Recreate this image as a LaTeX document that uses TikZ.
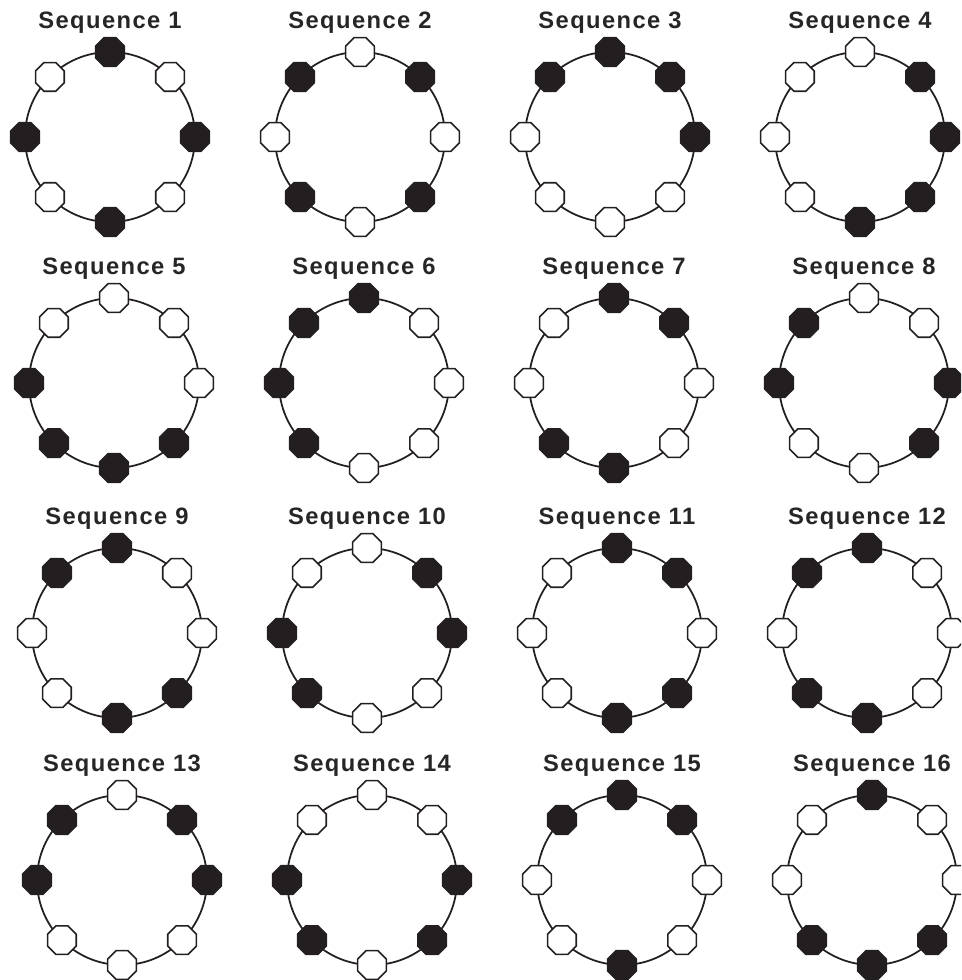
\documentclass[tikz,border=0pt]{standalone}
\usepackage{fontspec}
\setmainfont{Liberation Sans}
\newfontfamily\headfont[LetterSpace=6]{Liberation Sans}
\usepackage{xcolor}
\usepackage{tikz}
\usetikzlibrary{positioning, shapes.geometric, calc}
\definecolor{inkblack}{RGB}{35,31,32}
\definecolor{textgray}{RGB}{38,38,38}

\begin{document}
\begin{tikzpicture}[
  x=0.02cm, y=-0.02cm,
  node distance=0.06cm,
  ring/.style={draw=inkblack, line width=1pt},
  disc/.style={regular polygon, regular polygon sides=8, draw=inkblack,
               line width=0.9pt, minimum size=0.62cm, inner sep=0pt},
  bk/.style={disc, fill=inkblack},
  wh/.style={disc, fill=white},
  title/.style={font=\headfont\bfseries\fontsize{13.5}{15}\selectfont,
                text=textgray, inner sep=0pt},
]
  \clip (0,0) rectangle (961,980);

  % one ring per sequence: dots listed top, then clockwise
  \foreach \n/\cx/\cy/\pat in {
    1/110/137/{bk,wh,bk,wh,bk,wh,bk,wh},
    2/360/137/{wh,bk,wh,bk,wh,bk,wh,bk},
    3/610/137/{bk,bk,bk,wh,wh,wh,wh,bk},
    4/860/137/{wh,bk,bk,bk,bk,wh,wh,wh},
    5/114/383/{wh,wh,wh,bk,bk,bk,bk,wh},
    6/364/383/{bk,wh,wh,wh,wh,bk,bk,bk},
    7/614/383/{bk,bk,wh,wh,bk,bk,wh,wh},
    8/864/383/{wh,wh,bk,bk,wh,wh,bk,bk},
    9/117/633/{bk,wh,wh,bk,bk,wh,wh,bk},
    10/367/633/{wh,bk,bk,wh,wh,bk,bk,wh},
    11/617/633/{bk,bk,wh,bk,bk,wh,wh,wh},
    12/867/633/{bk,wh,wh,wh,bk,bk,wh,bk},
    13/122/880/{wh,bk,bk,wh,wh,wh,bk,bk},
    14/372/880/{wh,wh,bk,bk,wh,bk,bk,wh},
    15/622/880/{bk,bk,wh,wh,bk,wh,wh,bk},
    16/872/880/{bk,wh,wh,bk,bk,bk,wh,wh}}{
    \coordinate (seq\n) at (\cx,\cy);
    \draw[ring] (seq\n) circle (85);
    \foreach \s [count=\i from 0] in \pat
      \node[\s] (seq\n-\i) at ($(seq\n)+(45*\i-90:85)$) {};
    \node[title, above=of seq\n-0] (lbl\n) {Sequence \n};
  }
\end{tikzpicture}
\end{document}
